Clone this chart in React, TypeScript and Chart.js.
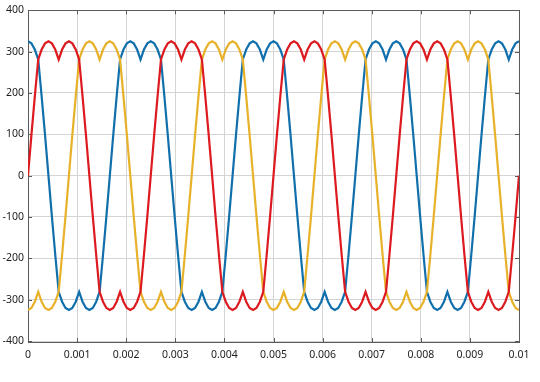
import { useEffect, useRef } from "react";
import { Chart, registerables } from "chart.js";

Chart.register(...registerables);

// Sample interval: 10 electrical degrees of a 400 Hz waveform (0.0025 s period)
const sampleStep = 0.0025 / 36;

// Phase voltages (V), one line per period
const redValues = [
  0, 98, 192, 281, 305, 320, 325, 320, 305, 281, 305, 320, 325, 320, 305, 281, 192, 98, 0, -98, -192, -281, -305, -320, -325, -320, -305, -281, -305, -320, -325, -320, -305, -281, -192, -98,
  0, 98, 192, 281, 305, 320, 325, 320, 305, 281, 305, 320, 325, 320, 305, 281, 192, 98, 0, -98, -192, -281, -305, -320, -325, -320, -305, -281, -305, -320, -325, -320, -305, -281, -192, -98,
  0, 98, 192, 281, 305, 320, 325, 320, 305, 281, 305, 320, 325, 320, 305, 281, 192, 98, 0, -98, -192, -281, -305, -320, -325, -320, -305, -281, -305, -320, -325, -320, -305, -281, -192, -98,
  0, 98, 192, 281, 305, 320, 325, 320, 305, 281, 305, 320, 325, 320, 305, 281, 192, 98, 0, -98, -192, -281, -305, -320, -325, -320, -305, -281, -305, -320, -325, -320, -305, -281, -192, -98,
  0,
];

const blueValues = [
  325, 320, 305, 281, 192, 98, 0, -98, -192, -281, -305, -320, -325, -320, -305, -281, -305, -320, -325, -320, -305, -281, -192, -98, 0, 98, 192, 281, 305, 320, 325, 320, 305, 281, 305, 320,
  325, 320, 305, 281, 192, 98, 0, -98, -192, -281, -305, -320, -325, -320, -305, -281, -305, -320, -325, -320, -305, -281, -192, -98, 0, 98, 192, 281, 305, 320, 325, 320, 305, 281, 305, 320,
  325, 320, 305, 281, 192, 98, 0, -98, -192, -281, -305, -320, -325, -320, -305, -281, -305, -320, -325, -320, -305, -281, -192, -98, 0, 98, 192, 281, 305, 320, 325, 320, 305, 281, 305, 320,
  325, 320, 305, 281, 192, 98, 0, -98, -192, -281, -305, -320, -325, -320, -305, -281, -305, -320, -325, -320, -305, -281, -192, -98, 0, 98, 192, 281, 305, 320, 325, 320, 305, 281, 305, 320,
  325,
];

const yellowValues = [
  -325, -320, -305, -281, -305, -320, -325, -320, -305, -281, -192, -98, 0, 98, 192, 281, 305, 320, 325, 320, 305, 281, 305, 320, 325, 320, 305, 281, 192, 98, 0, -98, -192, -281, -305, -320,
  -325, -320, -305, -281, -305, -320, -325, -320, -305, -281, -192, -98, 0, 98, 192, 281, 305, 320, 325, 320, 305, 281, 305, 320, 325, 320, 305, 281, 192, 98, 0, -98, -192, -281, -305, -320,
  -325, -320, -305, -281, -305, -320, -325, -320, -305, -281, -192, -98, 0, 98, 192, 281, 305, 320, 325, 320, 305, 281, 305, 320, 325, 320, 305, 281, 192, 98, 0, -98, -192, -281, -305, -320,
  -325, -320, -305, -281, -305, -320, -325, -320, -305, -281, -192, -98, 0, 98, 192, 281, 305, 320, 325, 320, 305, 281, 305, 320, 325, 320, 305, 281, 192, 98, 0, -98, -192, -281, -305, -320,
  -325,
];

const xTickValues = [0, 0.001, 0.002, 0.003, 0.004, 0.005, 0.006, 0.007, 0.008, 0.009, 0.01];
const xTickLabels = ["0", "0.001", "0.002", "0.003", "0.004", "0.005", "0.006", "0.007", "0.008", "0.009", "0.01"];
const yTickValues = [-400, -300, -200, -100, 0, 100, 200, 300, 400];
const yTickLabels = ["-400", "-300", "-200", "-100", "0", "100", "200", "300", "400"];

const RED = "#dc1a1f";
const BLUE = "#1170ac";
const YELLOW = "#e8b12a";

const toPoints = (vals: number[]) => vals.map((v, i) => ({ x: i * sampleStep, y: v }));

const framePlugin = {
  id: "frame",
  beforeDatasetsDraw(chart: any) {
    const { ctx, chartArea } = chart;
    const { left, right, top, bottom } = chartArea;
    const xs = chart.scales.x;
    const ys = chart.scales.y;
    ctx.save();
    ctx.strokeStyle = "#5a5a5a";
    ctx.lineWidth = 1;
    ctx.strokeRect(Math.round(left) + 0.5, Math.round(top) + 0.5, Math.round(right - left), Math.round(bottom - top) + 1);
    const tl = 4;
    ctx.beginPath();
    xTickValues.forEach((v) => {
      const px = Math.round(xs.getPixelForValue(v)) + 0.5;
      ctx.moveTo(px, bottom + 1);
      ctx.lineTo(px, bottom + 1 - tl);
      ctx.moveTo(px, top);
      ctx.lineTo(px, top + tl);
    });
    yTickValues.forEach((v) => {
      const py = Math.round(ys.getPixelForValue(v)) + 0.5;
      ctx.moveTo(left, py);
      ctx.lineTo(left + tl, py);
      ctx.moveTo(right, py);
      ctx.lineTo(right - tl, py);
    });
    ctx.stroke();
    ctx.restore();
  },
};

export default function App() {
  const canvasRef = useRef<HTMLCanvasElement | null>(null);

  useEffect(() => {
    if (!canvasRef.current) return;
    const chart = new Chart(canvasRef.current, {
      type: "line",
      data: {
        datasets: [
          { label: "A", data: toPoints(redValues), borderColor: RED, borderWidth: 2.2, pointRadius: 0, tension: 0, fill: false },
          { label: "B", data: toPoints(yellowValues), borderColor: YELLOW, borderWidth: 2.2, pointRadius: 0, tension: 0, fill: false },
          { label: "C", data: toPoints(blueValues), borderColor: BLUE, borderWidth: 2.2, pointRadius: 0, tension: 0, fill: false },
        ],
      },
      options: {
        animation: false,
        responsive: false,
        layout: { padding: { left: 0, right: 21, top: 10, bottom: 0 } },
        plugins: { legend: { display: false }, tooltip: { enabled: false } },
        scales: {
          x: {
            type: "linear",
            min: 0,
            max: 0.01,
            afterBuildTicks: (s: any) => {
              s.ticks = xTickValues.map((v) => ({ value: v }));
            },
            afterFit: (s: any) => {
              s.height = 41;
            },
            ticks: {
              autoSkip: false,
              maxRotation: 0,
              padding: 8,
              color: "#222222",
              font: { family: "'Noto Sans', sans-serif", size: 10.5 },
              callback: (v: any) => {
                const i = xTickValues.findIndex((t) => Math.abs(t - Number(v)) < 1e-9);
                return i >= 0 ? xTickLabels[i] : "";
              },
            },
            grid: { color: "#d4d4d4", lineWidth: 1, drawTicks: false },
            border: { display: false },
          },
          y: {
            type: "linear",
            min: -400,
            max: 400,
            afterBuildTicks: (s: any) => {
              s.ticks = yTickValues.map((v) => ({ value: v }));
            },
            afterFit: (s: any) => {
              s.width = 28;
            },
            ticks: {
              autoSkip: false,
              padding: 4,
              color: "#222222",
              font: { family: "'Noto Sans', sans-serif", size: 10.5 },
              callback: (v: any) => {
                const i = yTickValues.indexOf(Number(v));
                return i >= 0 ? yTickLabels[i] : "";
              },
            },
            grid: { color: "#d4d4d4", lineWidth: 1, drawTicks: false },
            border: { display: false },
          },
        },
      },
      plugins: [framePlugin],
    });
    return () => chart.destroy();
  }, []);

  return (
    <div style={{ position: "absolute", left: 0, top: 0, width: 540, height: 382, background: "#fff" }}>
      <canvas ref={canvasRef} width={540} height={382} style={{ width: 540, height: 382, display: "block" }} />
    </div>
  );
}
